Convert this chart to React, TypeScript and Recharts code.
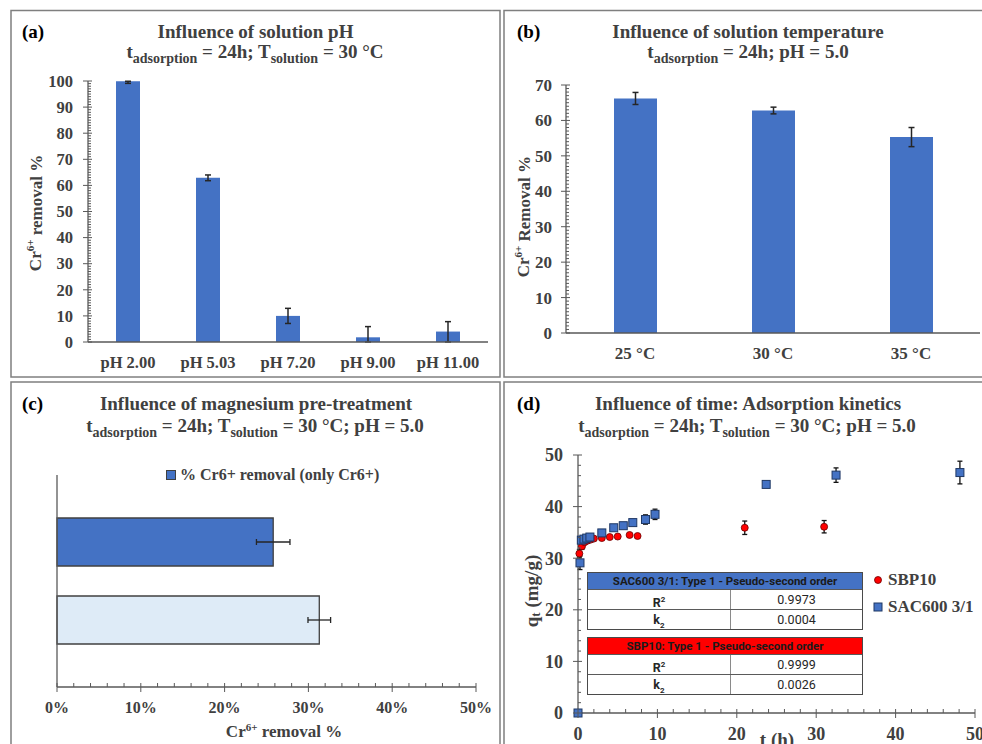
import React from 'react';
import { BarChart, Bar, XAxis, YAxis, ErrorBar, Cell, Legend, ScatterChart, Scatter } from 'recharts';

const SERIF = '"Liberation Serif", "Times New Roman", serif';
const SANS = 'Roboto, "Liberation Sans", sans-serif';
const TXT = '#404040';
const AXIS = '#595959';
const BLUE = '#4472C4';
const ERR = '#262626';

// (a) influence of solution pH
const phLabels = ['pH 2.00', 'pH 5.03', 'pH 7.20', 'pH 9.00', 'pH 11.00'];
const phRemoval = [99.9, 62.9, 10.0, 1.8, 4.0];
const phErrDown = [0.8, 1.1, 2.9, 1.8, 4.0];
const phErrUp = [0.0, 1.1, 2.9, 4.1, 3.8];

// (b) influence of solution temperature
const tempLabels = ['25 °C', '30 °C', '35 °C'];
const tempRemoval = [66.2, 62.8, 55.3];
const tempErr = [1.7, 0.95, 2.7];

// (c) influence of magnesium pre-treatment
const mgGroups = ['only Cr6+', 'Mg pre-treated'];
const mgRemoval = [25.8, 31.3];
const mgErr = [2.0, 1.35];
const mgColors = [BLUE, '#DEEBF7'];

// (d) adsorption kinetics, t in h, q in mg/g
const sbpTime = [0, 0.17, 0.5, 0.83, 1.2, 1.6, 2, 3, 4, 5, 6.5, 7.5, 21, 31];
const sbpQ = [0, 30.9, 32.3, 33.1, 33.4, 33.6, 33.8, 33.9, 34.1, 34.2, 34.5, 34.3, 35.9, 36.1];
const sbpErr = [0, 0.8, 0.6, 0.3, 0.3, 0.3, 0.2, 0.2, 0.2, 0.2, 0.2, 0.2, 1.3, 1.2];
const sacTime = [0, 0.25, 0.42, 0.75, 1.1, 1.5, 3, 4.5, 5.7, 6.9, 8.5, 9.7, 23.7, 32.5, 48.1];
const sacQ = [0, 29.1, 33.5, 33.7, 33.9, 34.1, 34.9, 35.9, 36.3, 36.9, 37.5, 38.5, 44.3, 46.1, 46.6];
const sacErr = [0, 1.3, 0.6, 0.3, 0.3, 0.3, 0.3, 0.3, 0.3, 0.4, 0.9, 1.0, 0.4, 1.4, 2.2];

// fit tables in (d)
const fitTitles = ['SAC600 3/1: Type 1 - Pseudo-second order', 'SBP10: Type 1 - Pseudo-second order'];
const fitColors = ['#4472C4', '#FF0000'];
const fitR2 = ['0.9973', '0.9999'];
const fitK2 = ['0.0004', '0.0026'];
const fitTops = [572, 637];

const range = (max: number, step: number) =>
  Array.from({ length: Math.round(max / step) + 1 }, (_, i) => i * step);

const isMajor = (v: number, major: number) => Math.abs(v / major - Math.round(v / major)) < 1e-6;

// y ticks: major crosses the axis, minor points inside
const yTick = (major: number, size: number, gap: number) => (props: any) => {
  const { x, y, payload } = props;
  const m = isMajor(payload.value, major);
  return (
    <g>
      <line x1={m ? x - 5 : x} x2={x + (m ? 4 : 3)} y1={y} y2={y} stroke={AXIS} strokeWidth={1} />
      {m && (
        <text x={x - gap} y={y} dy="0.35em" textAnchor="end" fontFamily={SERIF} fontWeight={700} fontSize={size} fill={TXT}>
          {payload.value}
        </text>
      )}
    </g>
  );
};

const xTick = (major: number, size: number, gap: number, fmt?: (v: number) => string) => (props: any) => {
  const { x, y, payload } = props;
  const m = isMajor(payload.value, major);
  return (
    <g>
      <line x1={x} x2={x} y1={y - 4} y2={y + (m ? 5 : 0)} stroke={AXIS} strokeWidth={1} />
      {m && (
        <text x={x} y={y + gap} textAnchor="middle" fontFamily={SERIF} fontWeight={700} fontSize={size} fill={TXT}>
          {fmt ? fmt(payload.value) : payload.value}
        </text>
      )}
    </g>
  );
};

const catTick = (size: number, gap: number) => (props: any) => (
  <text x={props.x} y={props.y + gap} textAnchor="middle" fontFamily={SERIF} fontWeight={700} fontSize={size} fill={TXT}>
    {props.payload.value}
  </text>
);

const VTitle = ({ cx, cy, size, children }: any) => (
  <text
    x={cx}
    y={cy}
    transform={`rotate(-90 ${cx} ${cy})`}
    textAnchor="middle"
    dominantBaseline="central"
    fontFamily={SERIF}
    fontWeight={700}
    fontSize={size}
    fill={TXT}
  >
    {children}
  </text>
);

const axisLine = { stroke: AXIS, strokeWidth: 1.3 };

function PhChart() {
  const data = phLabels.map((label, i) => ({ label, removal: phRemoval[i], err: [phErrDown[i], phErrUp[i]] }));
  return (
    <BarChart width={489} height={316} data={data} margin={{ top: 21, right: 12, bottom: 0, left: 17 }}>
      <XAxis dataKey="label" height={34} interval={0} tickLine={false} tickSize={0} tickMargin={0} axisLine={axisLine} tick={catTick(16.5, 26)} />
      <YAxis
        width={60}
        domain={[0, 100]}
        ticks={range(100, 1)}
        interval={0}
        tickSize={0}
        tickMargin={0}
        tickLine={false}
        axisLine={axisLine}
        tick={yTick(10, 16.5, 15)}
        label={{
          content: () => (
            <VTitle cx={24.5} cy={153} size={17}>
              Cr<tspan dy={-6} fontSize={11}>6+</tspan>
              <tspan dy={6}> removal %</tspan>
            </VTitle>
          ),
        }}
      />
      <Bar dataKey="removal" fill={BLUE} barSize={24} isAnimationActive={false}>
        <ErrorBar dataKey="err" direction="y" width={3} stroke={ERR} strokeWidth={1.5} />
      </Bar>
    </BarChart>
  );
}

function TempChart() {
  const data = tempLabels.map((label, i) => ({ label, removal: tempRemoval[i], err: tempErr[i] }));
  return (
    <BarChart width={478} height={316} data={data} margin={{ top: 25, right: 2, bottom: 0, left: 12 }}>
      <XAxis dataKey="label" height={43} interval={0} tickLine={false} tickSize={0} tickMargin={0} axisLine={axisLine} tick={catTick(17, 26)} />
      <YAxis
        width={50}
        domain={[0, 70]}
        ticks={range(70, 1)}
        interval={0}
        tickSize={0}
        tickMargin={0}
        tickLine={false}
        axisLine={axisLine}
        tick={yTick(10, 17, 14)}
        label={{
          content: () => (
            <VTitle cx={20} cy={156.7} size={17}>
              Cr<tspan dy={-6} fontSize={11}>6+</tspan>
              <tspan dy={6}> Removal %</tspan>
            </VTitle>
          ),
        }}
      />
      <Bar dataKey="removal" fill={BLUE} barSize={43} isAnimationActive={false}>
        <ErrorBar dataKey="err" direction="y" width={3} stroke={ERR} strokeWidth={1.5} />
      </Bar>
    </BarChart>
  );
}

function MgLegend() {
  return (
    <div style={{ display: 'flex', alignItems: 'center', fontFamily: SERIF, fontWeight: 700, fontSize: 16, color: TXT, whiteSpace: 'nowrap' }}>
      <svg width={10} height={10} style={{ marginRight: 4 }}>
        <rect x={0.5} y={0.5} width={9} height={9} fill={BLUE} stroke="#404040" strokeWidth={1} />
      </svg>
      % Cr6+ removal (only Cr6+)
    </div>
  );
}

function MgChart() {
  const data = mgGroups.map((group, i) => ({ group, removal: mgRemoval[i], err: mgErr[i] }));
  return (
    <BarChart layout="vertical" width={489} height={304} data={data} margin={{ top: 35, right: 24, bottom: 0, left: 36 }}>
      <XAxis
        type="number"
        domain={[0, 50]}
        ticks={range(50, 2)}
        interval={0}
        height={57}
        tickSize={0}
        tickMargin={0}
        tickLine={false}
        axisLine={axisLine}
        tick={xTick(10, 16, 26, (v) => `${v}%`)}
        label={{
          content: () => (
            <text x={273} y={297} textAnchor="middle" fontFamily={SERIF} fontWeight={700} fontSize={17} fill={TXT}>
              Cr<tspan dy={-6} fontSize={11}>6+</tspan>
              <tspan dy={6}> removal %</tspan>
            </text>
          ),
        }}
      />
      <YAxis type="category" dataKey="group" width={10} tick={false} tickLine={false} axisLine={axisLine} padding={{ top: 28, bottom: 28 }} />
      <Legend
        layout="vertical"
        align="center"
        verticalAlign="middle"
        wrapperStyle={{ left: 155, top: 26, width: 'auto', height: 'auto' }}
        content={() => <MgLegend />}
      />
      <Bar dataKey="removal" barSize={48} stroke="#404040" strokeWidth={1.3} isAnimationActive={false}>
        {data.map((d, i) => (
          <Cell key={d.group} fill={mgColors[i]} />
        ))}
        <ErrorBar dataKey="err" direction="x" width={3} stroke={ERR} strokeWidth={1.3} />
      </Bar>
    </BarChart>
  );
}

const RedDot = (p: any) => <circle cx={p.cx} cy={p.cy} r={3.5} fill="#FF0000" stroke="#6b0000" strokeWidth={0.8} />;
const BlueSquare = (p: any) => (
  <rect x={p.cx - 4} y={p.cy - 4} width={8} height={8} fill={BLUE} stroke="#1f3864" strokeWidth={1} />
);

function KinLegend() {
  const rows = [
    { name: 'SBP10', icon: <circle cx={5} cy={5} r={3.5} fill="#FF0000" stroke="#6b0000" strokeWidth={0.8} /> },
    { name: 'SAC600 3/1', icon: <rect x={1} y={1} width={8} height={8} fill={BLUE} stroke="#1f3864" strokeWidth={1} /> },
  ];
  return (
    <div style={{ fontFamily: SERIF, fontWeight: 700, fontSize: 17, color: TXT, whiteSpace: 'nowrap' }}>
      {rows.map((r) => (
        <div key={r.name} style={{ display: 'flex', alignItems: 'center', height: 27 }}>
          <svg width={10} height={10} style={{ marginRight: 5 }}>
            {r.icon}
          </svg>
          {r.name}
        </div>
      ))}
    </div>
  );
}

function KineticsChart() {
  const sbp = sbpTime.map((t, i) => ({ t, q: sbpQ[i], err: sbpErr[i] }));
  const sac = sacTime.map((t, i) => ({ t, q: sacQ[i], err: sacErr[i] }));
  return (
    <ScatterChart width={478} height={304} margin={{ top: 15, right: 7, bottom: 0, left: 24 }}>
      <XAxis
        type="number"
        dataKey="t"
        domain={[0, 50]}
        ticks={range(50, 2)}
        interval={0}
        height={31}
        tickSize={0}
        tickMargin={0}
        tickLine={false}
        axisLine={axisLine}
        tick={xTick(10, 18, 27)}
        label={{
          content: () => (
            <text x={273} y={306} textAnchor="middle" fontFamily={SERIF} fontWeight={700} fontSize={19} fill={TXT}>
              t (h)
            </text>
          ),
        }}
      />
      <YAxis
        type="number"
        dataKey="q"
        width={50}
        domain={[0, 50]}
        ticks={range(50, 2)}
        interval={0}
        tickSize={0}
        tickMargin={0}
        tickLine={false}
        axisLine={axisLine}
        tick={yTick(10, 18, 15)}
        label={{
          content: () => (
            <VTitle cx={27} cy={151} size={19}>
              q<tspan dy={4} fontSize={13}>t</tspan>
              <tspan dy={-4}> (mg/g)</tspan>
            </VTitle>
          ),
        }}
      />
      <Legend
        layout="vertical"
        align="center"
        verticalAlign="middle"
        wrapperStyle={{ left: 369, top: 126, width: 'auto', height: 'auto' }}
        content={() => <KinLegend />}
      />
      <Scatter name="SBP10" data={sbp} shape={RedDot} isAnimationActive={false}>
        <ErrorBar dataKey="err" direction="y" width={2.5} stroke="#111" strokeWidth={1.3} />
      </Scatter>
      <Scatter name="SAC600 3/1" data={sac} shape={BlueSquare} isAnimationActive={false}>
        <ErrorBar dataKey="err" direction="y" width={2.5} stroke="#111" strokeWidth={1.3} />
      </Scatter>
    </ScatterChart>
  );
}

function FitTable({ i }: { i: number }) {
  const cell = { height: 19, lineHeight: '19px', textAlign: 'center' as const, fontSize: 12.5, color: '#262626' };
  const row = (label: React.ReactNode, value: string) => (
    <div style={{ display: 'flex', borderTop: '1px solid #5a5a5a' }}>
      <div style={{ ...cell, width: 142, borderRight: '1px solid #8a8a8a', fontWeight: 700 }}>{label}</div>
      <div style={{ ...cell, flex: 1 }}>{value}</div>
    </div>
  );
  return (
    <div
      style={{
        position: 'absolute',
        left: 587,
        top: fitTops[i],
        width: 276,
        border: '1.5px solid #4a4a4a',
        boxSizing: 'border-box',
        background: '#fff',
        fontFamily: SANS,
      }}
    >
      <div style={{ background: fitColors[i], height: 16, lineHeight: '16px', textAlign: 'center', fontWeight: 700, fontSize: 11.5, color: '#1a1a1a', whiteSpace: 'nowrap' }}>
        {fitTitles[i]}
      </div>
      {row(<>R<sup style={{ fontSize: 8 }}>2</sup></>, fitR2[i])}
      {row(<>k<sub style={{ fontSize: 8 }}>2</sub></>, fitK2[i])}
    </div>
  );
}

function Frame() {
  const title = { fontFamily: SERIF, fontWeight: 700, fontSize: 19, fill: TXT, textAnchor: 'middle' as const };
  const tag = { fontFamily: SERIF, fontWeight: 700, fontSize: 19, fill: '#000' };
  return (
    <svg width={982} height={744} style={{ position: 'absolute', left: 0, top: 0 }}>
      <g fill="none" stroke="#7f7f7f" strokeWidth={1.5}>
        <rect x={11} y={10.5} width={489} height={366.5} />
        <rect x={504} y={10.5} width={500} height={366.5} />
        <rect x={11} y={382} width={489} height={400} />
        <rect x={504} y={382} width={500} height={400} />
      </g>

      <text x={22} y={38} {...tag}>(a)</text>
      <text x={255.5} y={38} {...title}>Influence of solution pH</text>
      <text x={255} y={58} {...title}>
        t<tspan dy={5} fontSize={14}>adsorption</tspan>
        <tspan dy={-5}> = 24h; T</tspan>
        <tspan dy={5} fontSize={14}>solution</tspan>
        <tspan dy={-5}> = 30 °C</tspan>
      </text>

      <text x={517} y={38} {...tag}>(b)</text>
      <text x={748} y={38} {...title}>Influence of solution temperature</text>
      <text x={748} y={58} {...title}>
        t<tspan dy={5} fontSize={14}>adsorption</tspan>
        <tspan dy={-5}> = 24h; pH = 5.0</tspan>
      </text>

      <text x={22} y={410} {...tag}>(c)</text>
      <text x={256} y={410} {...title}>Influence of magnesium pre-treatment</text>
      <text x={255} y={432} {...title}>
        t<tspan dy={5} fontSize={14}>adsorption</tspan>
        <tspan dy={-5}> = 24h; T</tspan>
        <tspan dy={5} fontSize={14}>solution</tspan>
        <tspan dy={-5}> = 30 °C; pH = 5.0</tspan>
      </text>

      <text x={517} y={410} {...tag}>(d)</text>
      <text x={748} y={410} {...title}>Influence of time: Adsorption kinetics</text>
      <text x={747} y={432} {...title}>
        t<tspan dy={5} fontSize={14}>adsorption</tspan>
        <tspan dy={-5}> = 24h; T</tspan>
        <tspan dy={5} fontSize={14}>solution</tspan>
        <tspan dy={-5}> = 30 °C; pH = 5.0</tspan>
      </text>
    </svg>
  );
}

export default function App() {
  return (
    <div style={{ position: 'absolute', left: 0, top: 0, width: 982, height: 744, overflow: 'hidden', background: '#fff' }}>
      <Frame />
      <div style={{ position: 'absolute', left: 11, top: 60 }}>
        <PhChart />
      </div>
      <div style={{ position: 'absolute', left: 504, top: 60 }}>
        <TempChart />
      </div>
      <div style={{ position: 'absolute', left: 11, top: 440 }}>
        <MgChart />
      </div>
      <div style={{ position: 'absolute', left: 504, top: 440 }}>
        <KineticsChart />
      </div>
      <FitTable i={0} />
      <FitTable i={1} />
    </div>
  );
}
